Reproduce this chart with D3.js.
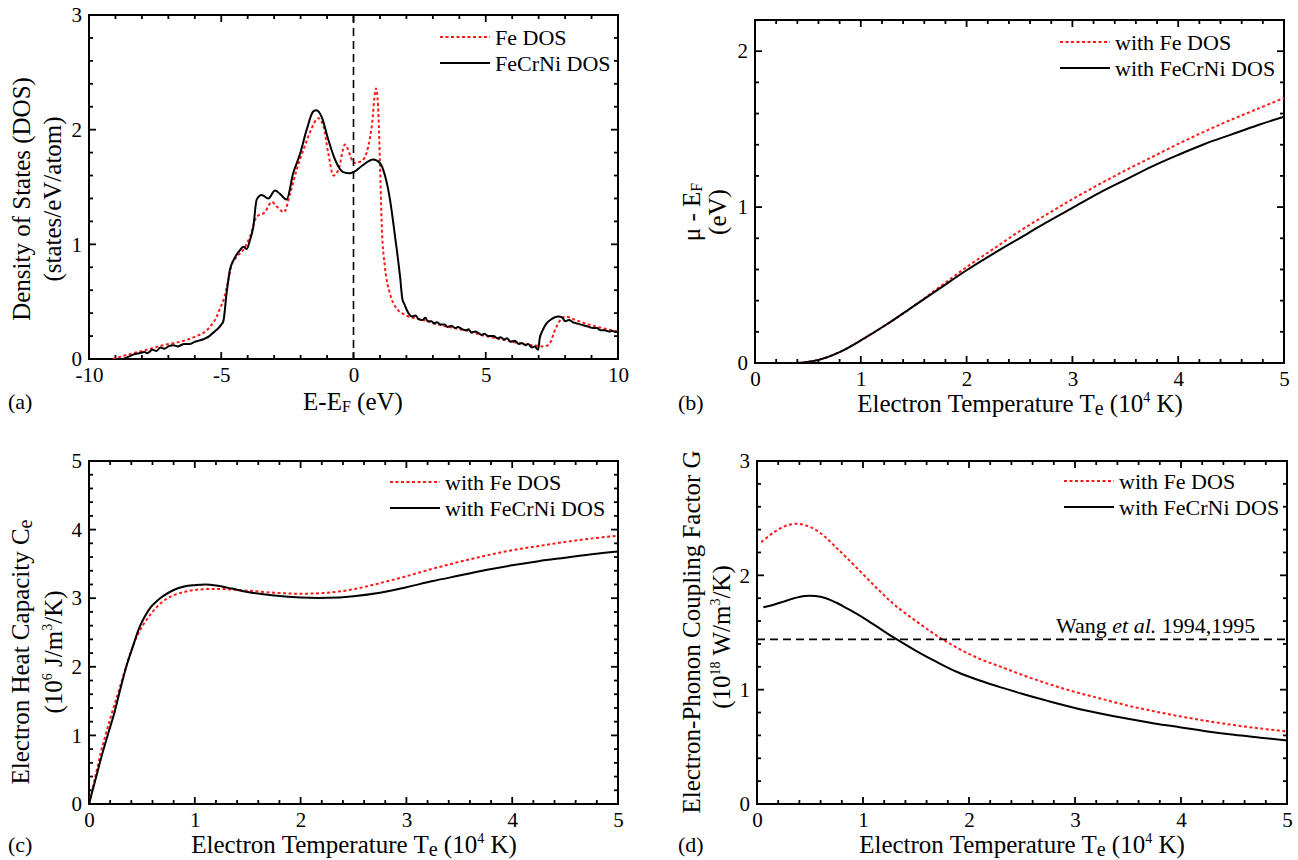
<!DOCTYPE html>
<html><head><meta charset="utf-8">
<script src="https://cdn.jsdelivr.net/npm/d3@7"></script>
<style>
body{margin:0;background:#fff;}
svg{display:block;font-family:"Liberation Serif","Times New Roman",serif;}
</style></head>
<body><svg id="c" width="1298" height="860"></svg>
<script>
// ---------- DATA ----------
// (a) Density of states  [E-EF (eV), DOS]
const feDOS = [[-9.1,0],[-8.5,0.04],[-7.82,0.08],[-7.2,0.12],[-6.56,0.15],[-5.93,0.20],[-5.6,0.24],[-5.43,0.28],[-5.17,0.37],[-5.05,0.44],[-4.92,0.51],[-4.73,0.69],[-4.61,0.82],[-4.42,0.89],[-4.17,0.95],[-3.91,1.07],[-3.66,1.24],[-3.35,1.28],[-3.09,1.37],[-2.9,1.33],[-2.63,1.28],[-2.4,1.44],[-2.15,1.65],[-1.9,1.82],[-1.64,1.98],[-1.33,2.10],[-1.14,2.03],[-0.95,1.79],[-0.76,1.60],[-0.57,1.65],[-0.32,1.87],[-0.13,1.78],[0.0,1.71],[0.25,1.72],[0.43,1.76],[0.69,2.03],[0.85,2.36],[0.93,2.2],[1.0,1.71],[1.07,1.15],[1.19,0.80],[1.38,0.57],[1.63,0.44],[2.0,0.38],[2.4,0.35],[2.8,0.33],[3.2,0.30],[3.6,0.28],[4.0,0.26],[4.4,0.24],[4.8,0.21],[5.2,0.19],[5.6,0.17],[6.0,0.15],[6.4,0.13],[6.8,0.12],[7.2,0.11],[7.4,0.13],[7.65,0.27],[7.85,0.35],[8.0,0.37],[8.4,0.34],[8.9,0.30],[9.4,0.27],[10,0.24]];
const fecrniDOS = [[-8.7,0],[-8.5,0.02],[-8.3,0.04],[-8.1,0.05],[-7.9,0.06],[-7.8,0.05],[-7.6,0.08],[-7.45,0.07],[-7.3,0.10],[-7.15,0.09],[-7.0,0.11],[-6.8,0.12],[-6.65,0.11],[-6.4,0.13],[-6.2,0.13],[-6.0,0.15],[-5.85,0.16],[-5.7,0.17],[-5.6,0.18],[-5.45,0.20],[-5.3,0.23],[-5.2,0.25],[-5.1,0.27],[-5.0,0.30],[-4.92,0.33],[-4.8,0.57],[-4.67,0.78],[-4.54,0.86],[-4.29,0.95],[-4.17,0.98],[-4.04,0.96],[-3.91,1.04],[-3.79,1.15],[-3.66,1.39],[-3.47,1.43],[-3.22,1.40],[-2.97,1.47],[-2.78,1.44],[-2.53,1.39],[-2.28,1.62],[-2.02,1.79],[-1.77,2.0],[-1.52,2.16],[-1.40,2.17],[-1.2,2.11],[-0.95,1.91],[-0.7,1.74],[-0.39,1.63],[-0.15,1.62],[0.0,1.63],[0.35,1.69],[0.74,1.74],[1.0,1.71],[1.19,1.60],[1.38,1.39],[1.57,1.07],[1.76,0.72],[1.85,0.52],[1.92,0.48],[2.08,0.40],[2.2,0.37],[2.35,0.38],[2.45,0.35],[2.6,0.34],[2.72,0.36],[2.8,0.33],[2.95,0.33],[3.05,0.31],[3.15,0.32],[3.3,0.30],[3.45,0.30],[3.55,0.28],[3.7,0.29],[3.85,0.27],[3.95,0.28],[4.1,0.26],[4.25,0.25],[4.35,0.26],[4.45,0.23],[4.6,0.24],[4.7,0.23],[4.85,0.21],[4.95,0.22],[5.1,0.20],[5.3,0.20],[5.45,0.18],[5.55,0.19],[5.7,0.17],[5.8,0.18],[5.95,0.15],[6.1,0.16],[6.25,0.13],[6.35,0.14],[6.5,0.12],[6.6,0.13],[6.75,0.10],[6.85,0.11],[6.98,0.08],[7.04,0.18],[7.15,0.25],[7.3,0.31],[7.5,0.35],[7.75,0.37],[7.9,0.36],[8.0,0.33],[8.15,0.34],[8.3,0.32],[8.45,0.31],[8.6,0.30],[8.75,0.29],[8.9,0.28],[9.05,0.27],[9.2,0.27],[9.35,0.25],[9.5,0.25],[9.65,0.24],[9.8,0.245],[9.9,0.235],[10,0.24]];
const fermiLevel = 0;

// (b) chemical potential shift  [Te (10^4 K), mu-EF (eV)]
const muFe = [[0.04,0],[0.2,0],[0.4,0],[0.6,0.02],[0.8,0.07],[1.0,0.145],[1.25,0.25],[1.5,0.365],[1.75,0.49],[2.0,0.615],[2.25,0.73],[2.5,0.845],[2.75,0.95],[3.0,1.05],[3.25,1.145],[3.5,1.235],[3.75,1.32],[4.0,1.405],[4.25,1.485],[4.5,1.56],[4.75,1.63],[5.0,1.70]];
const muFeCrNi = [[0.04,0],[0.2,0],[0.4,0],[0.6,0.02],[0.8,0.07],[1.0,0.145],[1.25,0.25],[1.5,0.365],[1.75,0.48],[2.0,0.595],[2.25,0.70],[2.5,0.80],[2.75,0.90],[3.0,0.995],[3.25,1.09],[3.5,1.175],[3.75,1.26],[4.0,1.335],[4.25,1.405],[4.5,1.465],[4.75,1.525],[5.0,1.58]];

// (c) electron heat capacity  [Te (10^4 K), Ce (10^6 J/m^3/K)]
const ceFe = [[0,0],[0.06,0.40],[0.12,0.80],[0.2,1.24],[0.28,1.64],[0.35,2.0],[0.43,2.36],[0.5,2.58],[0.59,2.78],[0.68,2.93],[0.78,3.03],[0.9,3.09],[1.0,3.12],[1.15,3.135],[1.3,3.13],[1.5,3.11],[1.75,3.08],[2.0,3.065],[2.25,3.08],[2.5,3.13],[2.75,3.22],[3.0,3.32],[3.25,3.43],[3.5,3.53],[3.75,3.62],[4.0,3.70],[4.25,3.76],[4.5,3.82],[4.75,3.87],[5.0,3.91]];
const ceFeCrNi = [[0,0],[0.06,0.35],[0.12,0.70],[0.18,1.02],[0.24,1.33],[0.3,1.70],[0.36,2.04],[0.42,2.32],[0.47,2.55],[0.53,2.74],[0.59,2.88],[0.65,2.97],[0.7,3.03],[0.8,3.12],[0.9,3.17],[1.0,3.19],[1.1,3.20],[1.2,3.185],[1.35,3.14],[1.5,3.09],[1.75,3.04],[2.0,3.01],[2.25,3.005],[2.5,3.03],[2.75,3.08],[3.0,3.16],[3.25,3.25],[3.5,3.33],[3.75,3.41],[4.0,3.48],[4.25,3.54],[4.5,3.59],[4.75,3.64],[5.0,3.68]];

// (d) electron-phonon coupling  [Te (10^4 K), G (10^18 W/m^3/K)]
const gFe = [[0.04,2.29],[0.15,2.37],[0.25,2.425],[0.35,2.45],[0.45,2.44],[0.55,2.40],[0.65,2.33],[0.75,2.24],[0.85,2.15],[1.0,2.01],[1.15,1.87],[1.3,1.74],[1.5,1.60],[1.7,1.47],[1.9,1.36],[2.1,1.27],[2.3,1.20],[2.5,1.13],[2.75,1.05],[3.0,0.98],[3.25,0.92],[3.5,0.86],[3.75,0.81],[4.0,0.765],[4.25,0.725],[4.5,0.69],[4.75,0.66],[5.0,0.635]];
const gFeCrNi = [[0.06,1.72],[0.15,1.74],[0.25,1.77],[0.35,1.80],[0.45,1.82],[0.55,1.82],[0.65,1.80],[0.75,1.76],[0.85,1.71],[1.0,1.63],[1.15,1.54],[1.3,1.45],[1.5,1.34],[1.7,1.24],[1.9,1.15],[2.1,1.08],[2.3,1.02],[2.5,0.965],[2.75,0.90],[3.0,0.84],[3.25,0.79],[3.5,0.745],[3.75,0.705],[4.0,0.67],[4.25,0.635],[4.5,0.605],[4.75,0.58],[5.0,0.555]];
const gWang = 1.44;

// tick values
const dosXTicks = [-10,-5,0,5,10];
const dosYTicks = [0,1,2,3];
const teXTicks = [0,1,2,3,4,5];
const muYTicks = [0,1,2];
const ceYTicks = [0,1,2,3,4,5];
const gYTicks = [0,1,2,3];
const legendFe = ["Fe DOS","FeCrNi DOS"];
const legendWith = ["with Fe DOS","with FeCrNi DOS"];

// ---------- DRAW ----------
const svg = d3.select("#c");
svg.append("rect").attr("width",1298).attr("height",860).attr("fill","#fff");
const RED = "#ff1a1a";

function range(a,b,s){const r=[];for(let v=a;v<=b+1e-9;v+=s)r.push(+v.toFixed(6));return r;}
const fmt = d => String(d);

function panel(o){
  const g = svg.append("g");
  const x = d3.scaleLinear().domain(o.xd).range([o.x0,o.x1]);
  const y = d3.scaleLinear().domain(o.yd).range([o.y1,o.y0]);
  const xMinor = range(o.xd[0],o.xd[1],o.xm), yMinor = range(o.yd[0],o.yd[1],o.ym);
  const tk = g.append("g").attr("stroke","#000").attr("stroke-width",1.8);
  const isMaj = (arr,v)=>arr.some(a=>Math.abs(a-v)<1e-6);
  xMinor.forEach(v=>{
    const L = isMaj(o.xt,v)?7:4, px = x(v);
    tk.append("line").attr("x1",px).attr("x2",px).attr("y1",o.y1).attr("y2",o.y1-L);
    tk.append("line").attr("x1",px).attr("x2",px).attr("y1",o.y0).attr("y2",o.y0+L);
  });
  yMinor.forEach(v=>{
    const L = isMaj(o.yt,v)?7:4, py = y(v);
    tk.append("line").attr("y1",py).attr("y2",py).attr("x1",o.x0).attr("x2",o.x0+L);
    tk.append("line").attr("y1",py).attr("y2",py).attr("x1",o.x1).attr("x2",o.x1-L);
  });
  // labels through d3 axes (tick lines drawn above)
  const bx = g.append("g").attr("transform",`translate(0,${o.y1})`)
    .call(d3.axisBottom(x).tickValues(o.xt).tickSize(0).tickPadding(8).tickFormat(fmt));
  const ly = g.append("g").attr("transform",`translate(${o.x0},0)`)
    .call(d3.axisLeft(y).tickValues(o.yt).tickSize(0).tickPadding(7).tickFormat(fmt));
  [bx,ly].forEach(s=>{s.select(".domain").remove(); s.selectAll("line").remove();});
  g.selectAll(".tick text").attr("font-family","Liberation Serif, serif").attr("font-size",21).attr("fill","#000");
  // frame
  g.append("rect").attr("x",o.x0).attr("y",o.y0).attr("width",o.x1-o.x0).attr("height",o.y1-o.y0)
    .attr("fill","none").attr("stroke","#000").attr("stroke-width",2);
  const clipId = "clip"+o.id;
  g.append("clipPath").attr("id",clipId).append("rect").attr("x",o.x0).attr("y",o.y0).attr("width",o.x1-o.x0).attr("height",o.y1-o.y0);
  const line = d3.line().x(d=>x(d[0])).y(d=>y(d[1])).curve(o.curve||d3.curveCatmullRom);
  const plot = g.append("g").attr("clip-path",`url(#${clipId})`);
  plot.append("path").datum(o.red).attr("d",line).attr("fill","none").attr("stroke",RED).attr("stroke-width",2).attr("stroke-dasharray","3,2.5");
  plot.append("path").datum(o.black).attr("d",line).attr("fill","none").attr("stroke","#000").attr("stroke-width",2);
  // legend
  o.legend.forEach((t,i)=>{
    const yy = o.leg[1] + i*26;
    g.append("line").attr("x1",o.leg[0]).attr("x2",o.leg[0]+50).attr("y1",yy).attr("y2",yy)
      .attr("stroke",i?"#000":RED).attr("stroke-width",2).attr("stroke-dasharray",i?null:"3,2.5");
    g.append("text").attr("x",o.leg[0]+55).attr("y",yy+8).attr("font-size",22).text(t);
  });
  return {g,x,y,plot};
}

function addText(parent, x, y, parts, opts={}){
  const t = parent.append("text").attr("x",x).attr("y",y).attr("font-size",opts.size||25).attr("text-anchor",opts.anchor||"middle");
  if(opts.rotate) t.attr("transform",`rotate(-90,${x},${y})`);
  parts.forEach(p=>{
    const s = t.append("tspan").text(p[0]);
    if(p[1]==="sup") s.attr("font-size",14).attr("dy",-10);
    if(p[1]==="sub") s.attr("font-size",20).attr("dy",3);
    if(p[1]==="subF") s.attr("font-size",16).attr("dy",2);
    if(p[1]==="it") s.attr("font-style","italic");
    if(p[2]!==undefined) s.attr("dy",p[2]);
  });
  return t;
}

// Panel (a)
const A = panel({id:"a",x0:89,x1:618,y0:15,y1:359,xd:[-10,10],yd:[0,3],xt:dosXTicks,yt:dosYTicks,xm:1,ym:0.2,
  red:feDOS,black:fecrniDOS,legend:legendFe,leg:[440,37],curve:d3.curveMonotoneX});
A.plot.append("line").attr("x1",A.x(fermiLevel)).attr("x2",A.x(fermiLevel)).attr("y1",15).attr("y2",359)
  .attr("stroke","#000").attr("stroke-width",1.6).attr("stroke-dasharray","8,5");
addText(svg,353,410,[["E-E"],["F","subF"],[" (eV)",null,-2]]);
addText(svg,30,199,[["Density of States (DOS)"]],{rotate:true});
addText(svg,61,199,[["(states/eV/atom)"]],{rotate:true});
addText(svg,8,409,[["(a)"]],{anchor:"start",size:22});

// Panel (b)
const B = panel({id:"b",x0:755,x1:1284,y0:20,y1:363,xd:[0,5],yd:[0,2.2],xt:teXTicks,yt:muYTicks,xm:0.2,ym:0.2,
  red:muFe,black:muFeCrNi,legend:legendWith,leg:[1060,42]});
addText(svg,1020,412,[["Electron Temperature T"],["e","sub"],[" (10",null,-3],["4","sup"],[" K)",null,10]]);
addText(svg,700,212,[["μ - E"],["F","subF"]],{rotate:true});
addText(svg,726,212,[["(eV)"]],{rotate:true});
addText(svg,678,410,[["(b)"]],{anchor:"start",size:22});

// Panel (c)
const C = panel({id:"c",x0:89,x1:618,y0:461,y1:804,xd:[0,5],yd:[0,5],xt:teXTicks,yt:ceYTicks,xm:0.2,ym:0.2,
  red:ceFe,black:ceFeCrNi,legend:legendWith,leg:[390,482]});
addText(svg,354,853,[["Electron Temperature T"],["e","sub"],[" (10",null,-3],["4","sup"],[" K)",null,10]]);
addText(svg,29,652,[["Electron Heat Capacity C"],["e","sub"]],{rotate:true});
addText(svg,62,652,[["(10"],["6","sup"],[" J/m",null,10],["3","sup"],["/K)",null,10]],{rotate:true});
addText(svg,8,852,[["(c)"]],{anchor:"start",size:22});

// Panel (d)
const D = panel({id:"d",x0:757,x1:1287,y0:461,y1:804,xd:[0,5],yd:[0,3],xt:teXTicks,yt:gYTicks,xm:0.2,ym:0.2,
  red:gFe,black:gFeCrNi,legend:legendWith,leg:[1064,481]});
D.plot.append("line").attr("x1",757).attr("x2",1287).attr("y1",D.y(gWang)).attr("y2",D.y(gWang))
  .attr("stroke","#000").attr("stroke-width",1.6).attr("stroke-dasharray","8,5");
addText(svg,1056,633,[["Wang "],["et al.","it"],[" 1994,1995"]],{anchor:"start",size:22});
addText(svg,1022,853,[["Electron Temperature T"],["e","sub"],[" (10",null,-3],["4","sup"],[" K)",null,10]]);
addText(svg,700,632,[["Electron-Phonon Coupling Factor G"]],{rotate:true});
addText(svg,730,637,[["(10"],["18","sup"],[" W/m",null,10],["3","sup"],["/K)",null,10]],{rotate:true});
addText(svg,678,852,[["(d)"]],{anchor:"start",size:22});
</script></body></html>
